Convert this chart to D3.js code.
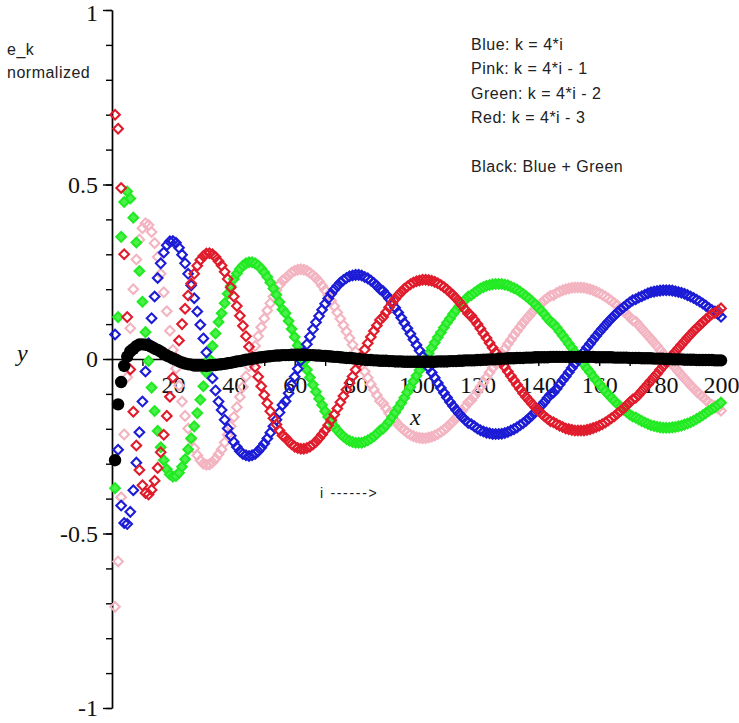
<!DOCTYPE html>
<html>
<head>
<meta charset="utf-8">
<script src="https://cdn.jsdelivr.net/npm/d3@7"></script>
<style>
body { margin: 0; background: #fff; }
.tick text { font-family: "Liberation Serif", "DejaVu Serif", serif; font-size: 24px; fill: #111; }
.note { font-family: "Liberation Sans", Arial, sans-serif; fill: #222; }
</style>
</head>
<body>
<svg id="chart" width="739" height="723"></svg>
<script>
// e_k normalized, one value per i = 1..200
const blue = [
  0.07, -0.26, -0.42, -0.47, -0.473, -0.438, -0.376, -0.297, -0.21, -0.122,
  -0.036, 0.045, 0.117, 0.179, 0.232, 0.274, 0.305, 0.326, 0.337, 0.338,
  0.333, 0.319, 0.299, 0.274, 0.244, 0.211, 0.174, 0.136, 0.098, 0.059,
  0.019, -0.018, -0.055, -0.09, -0.122, -0.146, -0.174, -0.199, -0.22, -0.238,
  -0.252, -0.264, -0.272, -0.276, -0.278, -0.276, -0.272, -0.264, -0.254, -0.242,
  -0.228, -0.211, -0.193, -0.174, -0.153, -0.132, -0.121, -0.098, -0.074, -0.051,
  -0.028, -0.004, 0.019, 0.042, 0.064, 0.085, 0.105, 0.123, 0.141, 0.158,
  0.173, 0.187, 0.199, 0.209, 0.219, 0.226, 0.232, 0.237, 0.239, 0.241,
  0.241, 0.239, 0.235, 0.231, 0.225, 0.218, 0.21, 0.2, 0.195, 0.184,
  0.173, 0.16, 0.147, 0.133, 0.118, 0.103, 0.088, 0.072, 0.056, 0.04,
  0.024, 0.008, -0.008, -0.024, -0.039, -0.054, -0.069, -0.083, -0.097, -0.11,
  -0.123, -0.135, -0.146, -0.156, -0.166, -0.175, -0.183, -0.187, -0.193, -0.199,
  -0.204, -0.208, -0.211, -0.213, -0.215, -0.215, -0.215, -0.214, -0.212, -0.209,
  -0.205, -0.201, -0.196, -0.19, -0.184, -0.177, -0.169, -0.161, -0.152, -0.143,
  -0.133, -0.123, -0.112, -0.102, -0.096, -0.085, -0.073, -0.061, -0.05, -0.038,
  -0.026, -0.014, -0.002, 0.01, 0.021, 0.033, 0.044, 0.055, 0.066, 0.077,
  0.087, 0.097, 0.107, 0.116, 0.125, 0.133, 0.141, 0.148, 0.155, 0.162,
  0.168, 0.171, 0.176, 0.18, 0.184, 0.188, 0.191, 0.193, 0.195, 0.196,
  0.197, 0.197, 0.197, 0.196, 0.194, 0.192, 0.19, 0.187, 0.183, 0.179,
  0.175, 0.17, 0.165, 0.159, 0.153, 0.146, 0.14, 0.136, 0.129, 0.121
];
const pink = [
  -0.71, -0.58, -0.396, -0.216, -0.052, 0.088, 0.2, 0.285, 0.342, 0.375,
  0.389, 0.384, 0.364, 0.332, 0.292, 0.244, 0.191, 0.137, 0.081, 0.026,
  -0.027, -0.076, -0.122, -0.163, -0.199, -0.23, -0.256, -0.276, -0.29, -0.3,
  -0.303, -0.302, -0.296, -0.286, -0.273, -0.259, -0.239, -0.217, -0.193, -0.166,
  -0.138, -0.109, -0.08, -0.05, -0.021, 0.009, 0.037, 0.065, 0.091, 0.116,
  0.139, 0.16, 0.179, 0.197, 0.212, 0.225, 0.231, 0.24, 0.248, 0.253,
  0.256, 0.257, 0.256, 0.253, 0.247, 0.24, 0.232, 0.222, 0.21, 0.197,
  0.183, 0.167, 0.151, 0.133, 0.115, 0.097, 0.079, 0.06, 0.041, 0.021,
  0.002, -0.017, -0.036, -0.054, -0.072, -0.088, -0.104, -0.12, -0.127, -0.141,
  -0.155, -0.167, -0.178, -0.188, -0.197, -0.204, -0.211, -0.217, -0.221, -0.224,
  -0.226, -0.227, -0.227, -0.225, -0.223, -0.219, -0.215, -0.209, -0.203, -0.196,
  -0.187, -0.179, -0.169, -0.159, -0.148, -0.137, -0.124, -0.118, -0.106, -0.093,
  -0.08, -0.067, -0.053, -0.039, -0.026, -0.012, 0.002, 0.016, 0.029, 0.043,
  0.055, 0.068, 0.08, 0.092, 0.103, 0.114, 0.124, 0.134, 0.144, 0.152,
  0.16, 0.168, 0.175, 0.181, 0.183, 0.189, 0.193, 0.197, 0.2, 0.202,
  0.204, 0.205, 0.205, 0.205, 0.204, 0.202, 0.2, 0.197, 0.193, 0.189,
  0.184, 0.179, 0.173, 0.167, 0.16, 0.153, 0.145, 0.137, 0.129, 0.12,
  0.111, 0.107, 0.097, 0.087, 0.077, 0.067, 0.057, 0.047, 0.037, 0.026,
  0.016, 0.005, -0.006, -0.016, -0.026, -0.036, -0.046, -0.056, -0.065, -0.075,
  -0.084, -0.093, -0.101, -0.109, -0.117, -0.125, -0.132, -0.135, -0.142, -0.148
];
const green = [
  -0.37, 0.12, 0.35, 0.45, 0.48, 0.46, 0.405, 0.334, 0.252, 0.164,
  0.077, -0.006, -0.082, -0.149, -0.206, -0.253, -0.29, -0.316, -0.331, -0.337,
  -0.335, -0.326, -0.309, -0.287, -0.259, -0.227, -0.193, -0.155, -0.117, -0.078,
  -0.039, 0.0, 0.037, 0.073, 0.106, 0.131, 0.16, 0.187, 0.209, 0.229,
  0.245, 0.258, 0.268, 0.274, 0.277, 0.277, 0.274, 0.268, 0.259, 0.248,
  0.235, 0.219, 0.202, 0.184, 0.163, 0.142, 0.131, 0.109, 0.086, 0.063,
  0.039, 0.016, -0.008, -0.031, -0.053, -0.074, -0.094, -0.114, -0.132, -0.15,
  -0.166, -0.18, -0.193, -0.204, -0.214, -0.222, -0.229, -0.234, -0.238, -0.24,
  -0.24, -0.24, -0.237, -0.233, -0.228, -0.222, -0.214, -0.205, -0.2, -0.19,
  -0.179, -0.166, -0.153, -0.14, -0.126, -0.111, -0.095, -0.08, -0.064, -0.048,
  -0.032, -0.016, 0.0, 0.016, 0.032, 0.047, 0.062, 0.076, 0.09, 0.104,
  0.116, 0.129, 0.14, 0.151, 0.161, 0.17, 0.179, 0.183, 0.19, 0.196,
  0.202, 0.206, 0.21, 0.212, 0.214, 0.215, 0.215, 0.215, 0.213, 0.211,
  0.207, 0.203, 0.199, 0.193, 0.187, 0.18, 0.173, 0.165, 0.157, 0.147,
  0.138, 0.128, 0.117, 0.107, 0.101, 0.09, 0.079, 0.067, 0.056, 0.044,
  0.032, 0.02, 0.008, -0.004, -0.016, -0.027, -0.038, -0.05, -0.061, -0.071,
  -0.082, -0.092, -0.102, -0.111, -0.12, -0.129, -0.137, -0.145, -0.152, -0.159,
  -0.165, -0.168, -0.173, -0.178, -0.182, -0.186, -0.19, -0.192, -0.194, -0.196,
  -0.197, -0.197, -0.197, -0.196, -0.195, -0.193, -0.191, -0.188, -0.185, -0.181,
  -0.177, -0.172, -0.167, -0.161, -0.155, -0.149, -0.143, -0.139, -0.132, -0.125
];
const red = [
  0.7, 0.66, 0.49, 0.3, 0.12, -0.03, -0.151, -0.248, -0.318, -0.362,
  -0.384, -0.388, -0.375, -0.349, -0.312, -0.267, -0.217, -0.163, -0.108, -0.053,
  0.001, 0.053, 0.1, 0.144, 0.182, 0.216, 0.244, 0.267, 0.284, 0.295,
  0.302, 0.303, 0.3, 0.292, 0.28, 0.268, 0.25, 0.229, 0.205, 0.179,
  0.152, 0.124, 0.095, 0.065, 0.035, 0.006, -0.023, -0.051, -0.078, -0.103,
  -0.127, -0.15, -0.17, -0.188, -0.205, -0.219, -0.225, -0.236, -0.244, -0.251,
  -0.255, -0.257, -0.257, -0.255, -0.251, -0.245, -0.237, -0.227, -0.216, -0.204,
  -0.19, -0.175, -0.159, -0.142, -0.124, -0.106, -0.088, -0.069, -0.05, -0.031,
  -0.012, 0.008, 0.027, 0.045, 0.063, 0.08, 0.096, 0.112, 0.12, 0.134,
  0.148, 0.161, 0.172, 0.183, 0.192, 0.201, 0.208, 0.214, 0.219, 0.223,
  0.225, 0.227, 0.227, 0.226, 0.224, 0.221, 0.217, 0.212, 0.206, 0.199,
  0.191, 0.183, 0.174, 0.164, 0.153, 0.142, 0.13, 0.124, 0.112, 0.1,
  0.087, 0.073, 0.06, 0.046, 0.032, 0.019, 0.005, -0.009, -0.023, -0.036,
  -0.049, -0.061, -0.074, -0.086, -0.098, -0.109, -0.119, -0.129, -0.139, -0.148,
  -0.156, -0.164, -0.171, -0.178, -0.181, -0.186, -0.191, -0.195, -0.199, -0.201,
  -0.203, -0.205, -0.205, -0.205, -0.205, -0.203, -0.201, -0.198, -0.195, -0.191,
  -0.187, -0.182, -0.176, -0.17, -0.164, -0.156, -0.149, -0.141, -0.133, -0.124,
  -0.116, -0.111, -0.102, -0.092, -0.082, -0.072, -0.062, -0.052, -0.042, -0.031,
  -0.021, -0.01, 0.0, 0.011, 0.021, 0.031, 0.041, 0.051, 0.061, 0.07,
  0.08, 0.088, 0.097, 0.105, 0.113, 0.121, 0.129, 0.132, 0.138, 0.145
];
const black = [
  -0.29, -0.13, -0.066, -0.02, 0.007, 0.022, 0.029, 0.037, 0.042, 0.042,
  0.041, 0.039, 0.035, 0.03, 0.026, 0.021, 0.015, 0.01, 0.006, 0.001,
  -0.002, -0.007, -0.01, -0.013, -0.015, -0.016, -0.019, -0.019, -0.019, -0.019,
  -0.02, -0.018, -0.018, -0.017, -0.016, -0.015, -0.014, -0.012, -0.011, -0.009,
  -0.007, -0.006, -0.004, -0.002, -0.001, 0.001, 0.002, 0.004, 0.005, 0.006,
  0.007, 0.008, 0.009, 0.01, 0.01, 0.011, 0.011, 0.011, 0.012, 0.012,
  0.012, 0.012, 0.012, 0.011, 0.011, 0.011, 0.01, 0.01, 0.009, 0.009,
  0.008, 0.007, 0.006, 0.006, 0.005, 0.004, 0.003, 0.003, 0.002, 0.001,
  0.0, -0.001, -0.002, -0.003, -0.003, -0.004, -0.004, -0.005, -0.005, -0.005,
  -0.006, -0.006, -0.007, -0.007, -0.007, -0.008, -0.008, -0.008, -0.008, -0.008,
  -0.008, -0.008, -0.008, -0.008, -0.008, -0.008, -0.007, -0.007, -0.007, -0.007,
  -0.006, -0.006, -0.006, -0.005, -0.005, -0.004, -0.004, -0.004, -0.004, -0.003,
  -0.003, -0.002, -0.002, -0.001, -0.001, -0.001, 0.0, 0.001, 0.001, 0.002,
  0.002, 0.002, 0.003, 0.003, 0.003, 0.004, 0.004, 0.004, 0.005, 0.005,
  0.005, 0.005, 0.005, 0.006, 0.006, 0.006, 0.006, 0.006, 0.006, 0.006,
  0.006, 0.006, 0.006, 0.006, 0.006, 0.006, 0.006, 0.006, 0.005, 0.005,
  0.005, 0.005, 0.005, 0.005, 0.004, 0.004, 0.004, 0.004, 0.004, 0.003,
  0.003, 0.003, 0.003, 0.002, 0.002, 0.002, 0.002, 0.001, 0.001, 0.001,
  0.001, 0.0, 0.0, -0.001, -0.001, -0.001, -0.001, -0.002, -0.002, -0.002,
  -0.002, -0.003, -0.003, -0.003, -0.003, -0.003, -0.003, -0.004, -0.004, -0.004
];

const xTicks = [10, 20, 30, 40, 50, 60, 70, 80, 90, 100, 110, 120, 130, 140, 150, 160, 170, 180, 190, 200];
const xLabels = [20, 40, 60, 80, 100, 120, 140, 160, 180, 200];
const yMinor = [-1, -0.9, -0.8, -0.7, -0.6, -0.5, -0.4, -0.3, -0.2, -0.1, 0, 0.1, 0.2, 0.3, 0.4, 0.5, 0.6, 0.7, 0.8, 0.9, 1];
const yMajor = [-1, -0.5, 0, 0.5, 1];
const legendLines = ["Blue: k = 4*i", "Pink: k = 4*i - 1", "Green: k = 4*i - 2", "Red: k = 4*i - 3", "", "Black: Blue + Green"];

const svg = d3.select("#chart");
svg.append("rect").attr("width", 739).attr("height", 723).attr("fill", "#fff");

const x = d3.scaleLinear().domain([0, 200]).range([112, 721]);
const y = d3.scaleLinear().domain([-1, 1]).range([708, 10]);
const idx = d3.range(1, 201);

// y axis: minor ticks then labelled ones
svg.append("g")
    .attr("transform", "translate(" + x(0) + ",0)")
    .call(d3.axisLeft(y).tickValues(yMinor).tickSize(6).tickSizeOuter(0).tickFormat(""));
const yAxisG = svg.append("g")
    .attr("transform", "translate(" + x(0) + ",0)")
    .call(d3.axisLeft(y).tickValues(yMajor).tickSize(9).tickSizeOuter(0).tickPadding(5)
        .tickFormat(d => String(d)));
// keep the top label inside the picture
yAxisG.selectAll(".tick text").filter(d => d === 1).attr("dy", "0.45em");

// x axis
svg.append("g")
    .attr("transform", "translate(0," + y(0) + ")")
    .call(d3.axisBottom(x).tickValues(xTicks).tickSize(7).tickSizeOuter(0).tickPadding(10)
        .tickFormat(d => xLabels.includes(d) ? String(d) : ""));

svg.selectAll(".domain, .tick line").attr("stroke", "#000").attr("stroke-width", 1.4);

svg.append("text").attr("x", 17).attr("y", 361)
    .style("font-family", "Liberation Serif, serif").style("font-style", "italic")
    .style("font-size", "24px").attr("fill", "#111").text("y");
svg.append("text").attr("x", 410).attr("y", 425)
    .style("font-family", "Liberation Serif, serif").style("font-style", "italic")
    .style("font-size", "24px").attr("fill", "#111").text("x");

// diamond marker (square turned 45 degrees)
const diamondType = {
    draw: function (ctx, size) {
        const r = Math.sqrt(size / 2);
        ctx.moveTo(0, -r);
        ctx.lineTo(r, 0);
        ctx.lineTo(0, r);
        ctx.lineTo(-r, 0);
        ctx.closePath();
    }
};
const diamond = d3.symbol().type(diamondType).size(46);

function drawSeries(values, stroke, fill) {
    svg.append("g").selectAll("path")
        .data(values)
        .join("path")
        .attr("d", diamond)
        .attr("transform", (d, i) => "translate(" + x(idx[i]) + "," + y(d) + ")")
        .attr("fill", fill)
        .attr("stroke", stroke)
        .attr("stroke-width", 2.1);
}

drawSeries(pink, "#f3b4c1", "none");
drawSeries(green, "#22ea22", "#4cf04c");
drawSeries(blue, "#1c1cd6", "none");
drawSeries(red, "#e01c2c", "none");

svg.append("g").selectAll("circle")
    .data(black)
    .join("circle")
    .attr("cx", (d, i) => x(idx[i]))
    .attr("cy", d => y(d))
    .attr("r", 6.2)
    .attr("fill", "#000");

// notes
svg.append("text").attr("class", "note").attr("x", 7).attr("y", 55)
    .style("font-size", "16px").style("letter-spacing", "0.5px").text("e_k");
svg.append("text").attr("class", "note").attr("x", 7).attr("y", 78)
    .style("font-size", "16px").style("letter-spacing", "0.5px").text("normalized");

svg.append("g").selectAll("text")
    .data(legendLines)
    .join("text")
    .attr("class", "note")
    .attr("x", 471)
    .attr("y", (d, i) => 50 + i * 24.3)
    .style("font-size", "16px")
    .style("letter-spacing", "0.5px")
    .text(d => d);

svg.append("text").attr("class", "note").attr("x", 320).attr("y", 498)
    .style("font-size", "14px").style("letter-spacing", "1.7px").text("i ------>");
</script>
</body>
</html>
